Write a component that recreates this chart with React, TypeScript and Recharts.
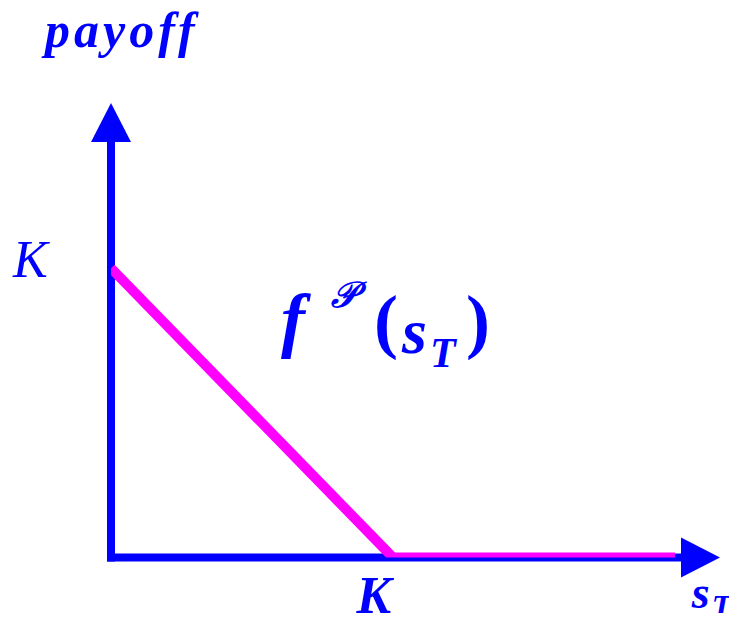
import React from 'react';
import { LineChart, Line, XAxis, YAxis, ReferenceLine, ReferenceDot } from 'recharts';

// ---- data ----
const K = 1;
const spotPrices = [0, K, 2 * K];
const putPayoffs = [K, 0, 0];
const xTicks = [K];
const yTicks = [K];
const tickLabel = 'K';
const X_MAX = 2.16;
const Y_MAX = 1.571;

const data = spotPrices.map((s, i) => ({ s, payoff: putPayoffs[i] }));

// ---- styles ----
const BLUE = '#0000FF';
const MAGENTA = '#FF00FF';
const SERIF = '"Liberation Serif", "Times New Roman", serif';
const ARROW_LEN = 39;
const ARROW_HALF = 20;
const AXIS_W = 8;

const XArrow = (p: any) => {
  const { x1, y1, x2 } = p;
  return (
    <g>
      <line x1={x1 - AXIS_W / 2} y1={y1} x2={x2 - ARROW_LEN + 1} y2={y1} stroke={BLUE} strokeWidth={AXIS_W} />
      <polygon points={`${x2},${y1} ${x2 - ARROW_LEN},${y1 - ARROW_HALF} ${x2 - ARROW_LEN},${y1 + ARROW_HALF}`} fill={BLUE} />
    </g>
  );
};

const YArrow = (p: any) => {
  const { x1, y1, y2 } = p;
  const bottom = Math.max(y1, y2);
  const top = Math.min(y1, y2);
  return (
    <g>
      <line x1={x1} y1={bottom + AXIS_W / 2} x2={x1} y2={top + ARROW_LEN - 1} stroke={BLUE} strokeWidth={AXIS_W} />
      <polygon points={`${x1},${top} ${x1 - ARROW_HALF},${top + ARROW_LEN} ${x1 + ARROW_HALF},${top + ARROW_LEN}`} fill={BLUE} />
    </g>
  );
};

const XTick = (p: any) => (
  <text x={p.x - 19} y={p.y + 55} textAnchor="middle" fontFamily={SERIF} fontWeight="bold" fontStyle="italic" fontSize={52} fill={BLUE}>
    {tickLabel}
  </text>
);

const YTick = (p: any) => (
  <text x={p.x - 98} y={p.y + 9} textAnchor="start" fontFamily={SERIF} fontStyle="italic" fontSize={52} fill={BLUE}>
    {tickLabel}
  </text>
);

const PayoffTitle = (p: any) => (
  <text x={p.cx} y={p.cy} fontFamily={SERIF} fontWeight="bold" fontStyle="italic" fontSize={50} letterSpacing={4} fill={BLUE}>
    payoff
  </text>
);

const SpotTitle = (p: any) => (
  <g fill={BLUE} fontFamily={SERIF} fontWeight="bold" fontStyle="italic">
    <text x={p.cx} y={p.cy} fontSize={46}>s</text>
    <text x={p.cx + 20} y={p.cy + 9} fontSize={32}>T</text>
  </g>
);

const Formula = (p: any) => {
  const { cx, cy } = p;
  return (
    <g fill={BLUE} fontFamily={SERIF}>
      <text x={cx + 2} y={cy - 9} fontSize={72} fontWeight="bold" fontStyle="italic">f</text>
      <text x={cx + 52} y={cy - 46} fontSize={36} fontWeight="bold" fontStyle="italic">𝒫</text>
      <text x={cx + 95} y={cy - 8} fontSize={72} fontWeight="bold">(</text>
      <text x={cx + 123} y={cy} fontSize={64} fontWeight="bold" fontStyle="italic">s</text>
      <text x={cx + 151} y={cy + 14} fontSize={42} fontWeight="bold" fontStyle="italic">T</text>
      <text x={cx + 187} y={cy - 8} fontSize={72} fontWeight="bold">)</text>
    </g>
  );
};

export default function App() {
  return (
    <div style={{ margin: -8, width: 737, height: 621 }}>
      <LineChart width={737} height={621} data={data} margin={{ top: 103, right: 17, left: 0, bottom: 0 }}>
        <XAxis
          dataKey="s"
          type="number"
          domain={[0, X_MAX]}
          ticks={xTicks}
          allowDataOverflow
          axisLine={false}
          tickLine={false}
          tickSize={0}
          tickMargin={0}
          height={63.5}
          tick={<XTick />}
        />
        <YAxis
          type="number"
          domain={[0, Y_MAX]}
          ticks={yTicks}
          allowDataOverflow
          axisLine={false}
          tickLine={false}
          tickSize={0}
          tickMargin={0}
          width={111}
          tick={<YTick />}
        />
        <ReferenceLine segment={[{ x: 0, y: 0 }, { x: 0, y: Y_MAX }]} shape={YArrow} ifOverflow="visible" />
        <ReferenceLine segment={[{ x: 0, y: 0 }, { x: X_MAX, y: 0 }]} shape={XArrow} ifOverflow="visible" />
        <Line
          dataKey="payoff"
          type="linear"
          stroke={MAGENTA}
          strokeWidth={10}
          strokeLinejoin="miter"
          dot={false}
          activeDot={false}
          isAnimationActive={false}
        />
        <ReferenceDot x={-0.234} y={1.765} r={1} ifOverflow="visible" shape={PayoffTitle} />
        <ReferenceDot x={2.06} y={-0.175} r={1} ifOverflow="visible" shape={SpotTitle} />
        <ReferenceDot x={0.596} y={0.706} r={1} ifOverflow="visible" shape={Formula} />
      </LineChart>
    </div>
  );
}
